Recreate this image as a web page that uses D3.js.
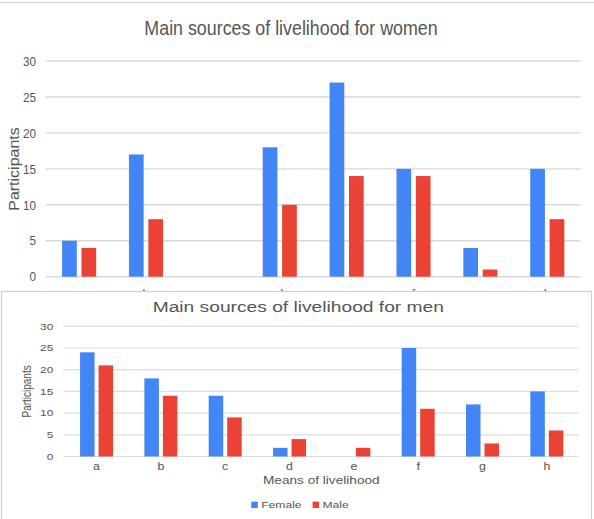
<!DOCTYPE html>
<html>
<head>
<meta charset="utf-8">
<script src="https://cdn.jsdelivr.net/npm/d3@7"></script>
<style>
  body { margin: 0; background: #fff; }
  svg { display: block; }
  text { font-family: "Liberation Sans", Arial, sans-serif; }
</style>
</head>
<body>
<svg id="chart" width="594" height="519"></svg>
<script>
// Means of livelihood (categories) and participants per gender
const categories = ["a", "b", "c", "d", "e", "f", "g", "h"];
const seriesNames = ["Female", "Male"];
const womenFemale = [5, 17, 0, 18, 27, 15, 4, 15];
const womenMale = [4, 8, 0, 10, 14, 14, 1, 8];
const menFemale = [24, 18, 14, 2, 0, 25, 12, 15];
const menMale = [21, 14, 9, 4, 2, 11, 3, 6];
const yTicks = [0, 5, 10, 15, 20, 25, 30];
const seriesColors = ["#4285F4", "#EA4335"];

const svg = d3.select("#chart");

// Place a text at (x, y) with a horizontal stretch factor
function stretchedText(g, x, y, str, size, k, anchor, fill, extra) {
  return g.append("text")
    .attr("transform", `translate(${x},${y}) scale(${k},1)` + (extra || ""))
    .attr("text-anchor", anchor)
    .attr("font-size", size)
    .attr("fill", fill)
    .text(str);
}

function drawChart(g, opt) {
  const rows = categories.map((c, i) => ({ cat: c, vals: [opt.female[i], opt.male[i]] }));

  const x0 = d3.scaleBand().domain(categories).range(opt.xRange)
    .paddingInner(opt.groupPad).paddingOuter(opt.groupPad / 2);
  const x1 = d3.scaleBand().domain(seriesNames).range([0, x0.bandwidth()])
    .paddingInner(opt.barPad);
  const y = d3.scaleLinear().domain([0, 30]).range(opt.yRange);

  // horizontal gridlines
  g.append("g").selectAll("line").data(yTicks).join("line")
    .attr("x1", opt.gridX[0]).attr("x2", opt.gridX[1])
    .attr("y1", d => y(d)).attr("y2", d => y(d))
    .attr("stroke", opt.gridColor).attr("stroke-width", opt.gridWidth);

  // y tick labels
  const yl = g.append("g");
  yTicks.forEach(t => {
    stretchedText(yl, opt.yLabelX, y(t), t, opt.tickSize, opt.k, "end", opt.textColor)
      .attr("dy", "0.35em");
  });

  // bars
  g.append("g").selectAll("g").data(rows).join("g")
    .attr("transform", d => `translate(${x0(d.cat)},0)`)
    .selectAll("rect").data(d => d.vals.map((v, j) => ({ key: seriesNames[j], v, j })))
    .join("rect")
    .attr("x", d => x1(d.key))
    .attr("width", x1.bandwidth())
    .attr("y", d => y(d.v))
    .attr("height", d => y(0) - y(d.v))
    .attr("fill", d => seriesColors[d.j]);

  // category labels
  const xl = g.append("g");
  categories.forEach(c => {
    stretchedText(xl, x0(c) + x0.bandwidth() / 2, opt.xLabelY, c, opt.catSize, opt.k, "middle", opt.textColor);
  });

  // title
  stretchedText(g, opt.titleX, opt.titleY, opt.title, opt.titleSize, opt.k, "middle", opt.textColor);

  // y axis title
  stretchedText(g, opt.yTitleX, opt.yTitleY, "Participants", opt.yTitleSize, opt.k, "middle", opt.textColor, " rotate(-90)");

  return { x0, y };
}

// Upper panel: women
const womenPanel = svg.append("g");
womenPanel.append("line").attr("x1", 0).attr("x2", 594).attr("y1", 2.5).attr("y2", 2.5)
  .attr("stroke", "#d4d4d4").attr("stroke-width", 1.2);
drawChart(womenPanel, {
  female: womenFemale, male: womenMale,
  xRange: [45.7, 580.7], yRange: [276.7, 61], gridX: [45.7, 580.7],
  groupPad: 0.49, barPad: 0.242,
  gridColor: "#d9d9d9", gridWidth: 1.4,
  k: 0.87, textColor: "#555",
  tickSize: 13.5, yLabelX: 36,
  catSize: 14.5, xLabelY: 299.6,
  title: "Main sources of livelihood for women", titleSize: 20.5, titleX: 291, titleY: 35,
  yTitleSize: 16, yTitleX: 18.5, yTitleY: 169
});

// Lower panel: men, drawn on a bordered card over the upper panel
const menPanel = svg.append("g");
menPanel.append("rect").attr("x", 1.5).attr("y", 291.5).attr("width", 590).attr("height", 240)
  .attr("fill", "#fff").attr("stroke", "#cfcfcf").attr("stroke-width", 1.2);
drawChart(menPanel, {
  female: menFemale, male: menMale,
  xRange: [64.4, 579], yRange: [456.5, 326.3], gridX: [63.3, 578.5],
  groupPad: 0.487, barPad: 0.216,
  gridColor: "#dedede", gridWidth: 1.2,
  k: 1.24, textColor: "#555",
  tickSize: 9.6, yLabelX: 53.3,
  catSize: 10, xLabelY: 470.3,
  title: "Main sources of livelihood for men", titleSize: 15.5, titleX: 298.3, titleY: 311.7,
  yTitleSize: 10, yTitleX: 30.5, yTitleY: 391.4
});

// x axis title
stretchedText(menPanel, 321.3, 484.3, "Means of livelihood", 11, 1.24, "middle", "#555");

// legend
const legend = menPanel.append("g");
const kLegend = 1.24, sq = 6.5, fs = 9.8;
const items = seriesNames.map((name, i) => {
  const t = stretchedText(legend, 0, 508.3, name, fs, kLegend, "start", "#555");
  return { t, w: t.node().getComputedTextLength() * kLegend, color: seriesColors[i] };
});
const textGap = 3.4, itemGap = 11;
const total = items.reduce((s, it) => s + sq + textGap + it.w, 0) + itemGap * (items.length - 1);
let cx = 300 - total / 2;
items.forEach(it => {
  legend.append("rect").attr("x", cx).attr("y", 501.6).attr("width", sq).attr("height", sq)
    .attr("fill", it.color);
  it.t.attr("transform", `translate(${cx + sq + textGap},508.3) scale(${kLegend},1)`);
  cx += sq + textGap + it.w + itemGap;
});
</script>
</body>
</html>
